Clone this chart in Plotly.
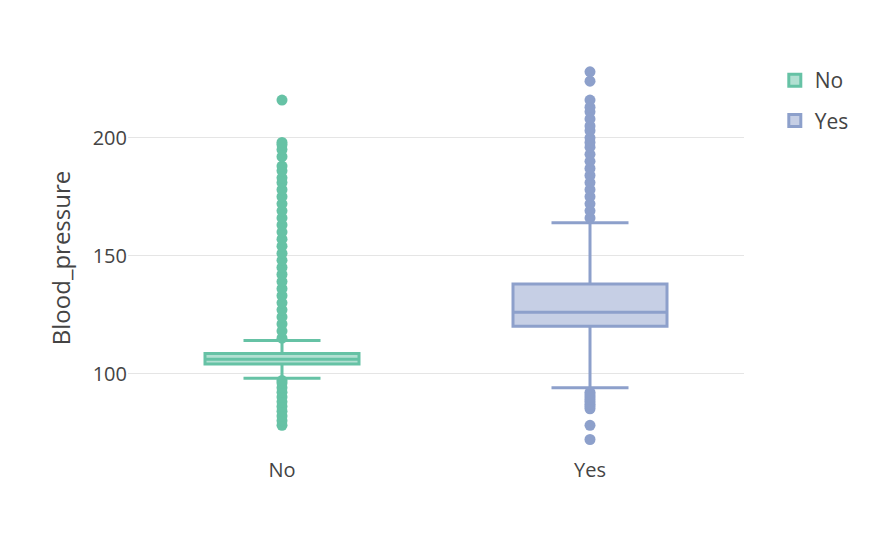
import plotly.graph_objects as go

groups = ["No", "Yes"]
q1 = [104, 120]
median = [106, 126]
q3 = [108.5, 138]
lower_fence = [98, 94]
upper_fence = [114, 164]

no_outliers = [78, 80, 82, 84, 86, 88, 90, 92, 94, 96, 97,
               115, 118, 121, 124, 127, 130, 133, 136, 139, 142, 145, 148, 151,
               154, 157, 160, 163, 166, 169, 172, 175, 178, 181, 183,
               186, 188, 192, 195, 197, 198, 216]
yes_outliers = [72, 78, 85, 86, 87, 88, 89, 90, 91, 92,
                166, 169, 172, 175, 178, 181, 184, 187, 190, 193, 196, 198, 200,
                203, 205, 208, 211, 213, 216, 224, 228]

colors = ["#66c2a5", "#8da0cb"]
fills = ["rgba(102,194,165,0.5)", "rgba(141,160,203,0.5)"]
outliers = [no_outliers, yes_outliers]

fig = go.Figure()
for i, g in enumerate(groups):
    fig.add_trace(go.Box(
        x=[g], q1=[q1[i]], median=[median[i]], q3=[q3[i]],
        lowerfence=[lower_fence[i]], upperfence=[upper_fence[i]],
        name=g, legendgroup=g, line=dict(color=colors[i], width=3),
        fillcolor=fills[i], width=0.5, whiskerwidth=0.5,
    ))
    fig.add_trace(go.Scatter(
        x=[g] * len(outliers[i]), y=outliers[i], mode="markers",
        marker=dict(color=colors[i], size=11), legendgroup=g,
        showlegend=False, hoverinfo="y",
    ))

fig.update_layout(
    width=894, height=534,
    paper_bgcolor="white", plot_bgcolor="white",
    font=dict(family="Open Sans", size=20, color="#444"),
    margin=dict(l=120, r=158, t=52, b=86),
    legend=dict(x=1.05, y=1, font=dict(size=21)),
    xaxis=dict(showgrid=False, zeroline=False, range=[-0.5, 1.5]),
    yaxis=dict(title="Blood_pressure", range=[65, 233], gridcolor="#e5e5e5",
               zeroline=False, tickvals=[100, 150, 200]),
)
fig.write_html("out.html")
